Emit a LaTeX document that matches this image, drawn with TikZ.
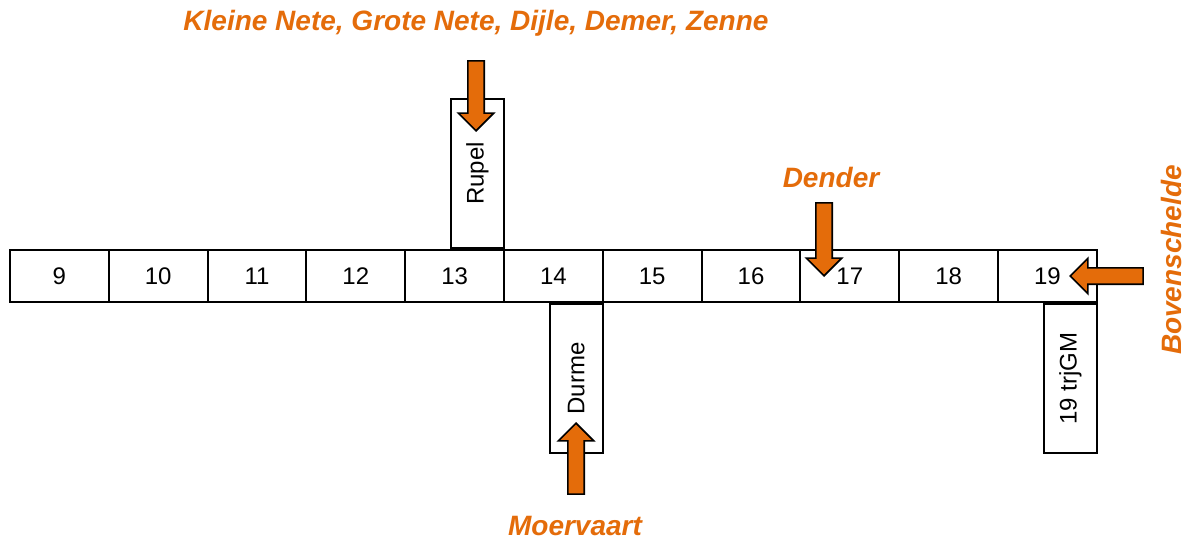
\documentclass[tikz,border=0pt]{standalone}
\usepackage{fontspec}
\setmainfont{Liberation Sans}
\usetikzlibrary{positioning}
\usetikzlibrary{calc}
\usetikzlibrary{shapes.arrows}
\definecolor{riverorange}{HTML}{E46C0A}
\tikzset{segment/.style={rectangle, draw, line width=1pt, minimum width=49.4pt, minimum height=26pt, inner sep=0pt, font=\fontsize{12}{14}\selectfont}}
\tikzset{branch/.style={rectangle, draw, line width=1pt, minimum width=26.5pt, minimum height=74.5pt, inner sep=0pt, font=\fontsize{12}{14}\selectfont}}
\tikzset{inflow/.style={single arrow, draw=black, fill=riverorange, line width=0.8pt, inner xsep=0pt, inner ysep=3.7pt, minimum width=17pt, single arrow head extend=4.8pt, minimum height=#1}}
\tikzset{river/.style={text=riverorange, font=\fontsize{14}{16}\selectfont\bfseries\itshape}}

\begin{document}
\begin{tikzpicture}[x=0.5pt, y=-0.5pt]
    \useasboundingbox (0,0) rectangle (1190,540);

    % The Scheldt segments, left to right.
    \foreach \n [count=\i from 0] in {9,...,19}
        \node [segment] (s\n) at ({59.4+98.8*\i},276) {\n};

    % The side branches.
    \node [branch, anchor=south east] (rupel) at (s13.north east) {\rotatebox{90}{Rupel}};
    \node [branch, anchor=north east] (durme) at (s14.south east) {\rotatebox{90}{Durme}};
    \node [branch, anchor=north east] (trjgm) at (s19.south east) {\rotatebox{90}{19 trjGM}};

    % The inflows.
    \node [inflow=35pt, rotate=-90, anchor=tip] (arrRupel) at (476,132) {};
    \node [inflow=36.5pt, rotate=-90, anchor=tip] (arrDender) at (824,277) {};
    \node [inflow=35.5pt, rotate=90, anchor=tip] (arrDurme) at (576,422) {};
    \node [inflow=36.5pt, rotate=180, anchor=tip] (arrBoven) at (1069,276) {};

    \node [river] (lRupel) at ($(arrRupel.tail) + (0,-37)$) {Kleine Nete, Grote Nete, Dijle, Demer, Zenne};
    \node [river] (lDender) at ($(arrDender.tail) + (7,-25)$) {Dender};
    \node [river] (lDurme) at ($(arrDurme.tail) + (-1,31)$) {Moervaart};
    \node [river, rotate=90] (lBoven) at ($(arrBoven.tail) + (28,-16)$) {Bovenschelde};

\end{tikzpicture}
\end{document}
